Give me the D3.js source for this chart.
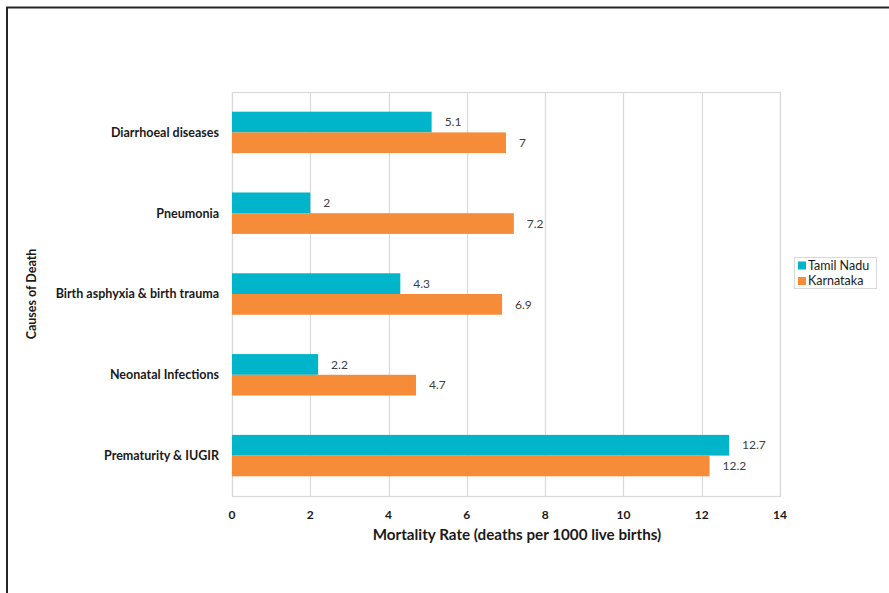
<!DOCTYPE html>
<html>
<head>
<meta charset="utf-8">
<script src="https://cdn.jsdelivr.net/npm/d3@7"></script>
<style>
  html, body { margin: 0; padding: 0; background: #fff; }
  svg { display: block; font-family: Lato, "Open Sans", sans-serif; }
</style>
</head>
<body>
<svg id="chart" width="889" height="593"></svg>
<script>
// Causes of neonatal death, mortality rate per 1000 live births
const causes = ["Diarrhoeal diseases", "Pneumonia", "Birth asphyxia & birth trauma", "Neonatal Infections", "Prematurity & IUGIR"];
const seriesNames = ["Tamil Nadu", "Karnataka"];
const tamilNadu = [5.1, 2, 4.3, 2.2, 12.7];
const karnataka = [7, 7.2, 6.9, 4.7, 12.2];
const xTicks = [0, 2, 4, 6, 8, 10, 12, 14];
const colors = ["#00b5c9", "#f68b38"];

const svg = d3.select("#chart");
const W = 889, H = 593;
const plot = { left: 232, top: 92, right: 780, bottom: 496 };

// outer frame (runs off right and bottom edges)
svg.append("path")
  .attr("d", `M7,${H + 5} V7.5 H${W + 5}`)
  .attr("fill", "none")
  .attr("stroke", "#262626")
  .attr("stroke-width", 2);

const x = d3.scaleLinear().domain([0, 14]).range([plot.left, plot.right]);
const y = d3.scaleBand().domain(causes).range([plot.top, plot.bottom]).paddingInner(0).paddingOuter(0);
const inner = d3.scaleBand().domain(seriesNames).range([0, y.bandwidth()]).paddingInner(0).paddingOuter(0.95);

// vertical gridlines
svg.append("g")
  .selectAll("line")
  .data(xTicks)
  .join("line")
  .attr("x1", d => Math.round(x(d)) + 0.5)
  .attr("x2", d => Math.round(x(d)) + 0.5)
  .attr("y1", plot.top)
  .attr("y2", plot.bottom)
  .attr("stroke", "#d9d9d9")
  .attr("stroke-width", 1.2);

// plot border
svg.append("rect")
  .attr("x", plot.left + 0.5)
  .attr("y", plot.top + 0.5)
  .attr("width", plot.right - plot.left)
  .attr("height", plot.bottom - plot.top)
  .attr("fill", "none")
  .attr("stroke", "#d9d9d9")
  .attr("stroke-width", 1.2);

const rows = causes.map((c, i) => ({ cause: c, values: [tamilNadu[i], karnataka[i]] }));

const groups = svg.append("g")
  .selectAll("g")
  .data(rows)
  .join("g")
  .attr("transform", d => `translate(0,${y(d.cause)})`);

const bars = groups.selectAll("g")
  .data(d => d.values.map((v, k) => ({ name: seriesNames[k], value: v, k })))
  .join("g");

bars.append("rect")
  .attr("x", x(0))
  .attr("y", d => inner(d.name))
  .attr("width", d => x(d.value) - x(0))
  .attr("height", inner.bandwidth())
  .attr("fill", d => colors[d.k]);

bars.append("text")
  .attr("x", d => x(d.value) + 13)
  .attr("y", d => inner(d.name) + inner.bandwidth() / 2)
  .attr("dy", "0.35em")
  .attr("font-size", 12)
  .attr("fill", "#404040")
  .text(d => d.value);

// category labels
svg.append("g")
  .selectAll("text")
  .data(causes)
  .join("text")
  .attr("x", 219)
  .attr("y", d => y(d) + y.bandwidth() / 2)
  .attr("dy", "0.35em")
  .attr("text-anchor", "end")
  .attr("font-size", 12.5)
  .attr("font-weight", "bold")
  .attr("fill", "#1a1a1a")
  .text(d => d);

// x tick labels
svg.append("g")
  .selectAll("text")
  .data(xTicks)
  .join("text")
  .attr("x", d => x(d))
  .attr("y", 515)
  .attr("dy", "0.35em")
  .attr("text-anchor", "middle")
  .attr("font-size", 12)
  .attr("font-weight", "bold")
  .attr("fill", "#1a1a1a")
  .text(d => d);

// axis titles
svg.append("text")
  .attr("x", (plot.left + plot.right) / 2 + 11)
  .attr("y", 535)
  .attr("dy", "0.35em")
  .attr("text-anchor", "middle")
  .attr("font-size", 15.2)
  .attr("font-weight", "bold")
  .attr("fill", "#1a1a1a")
  .text("Mortality Rate (deaths per 1000 live births)");

svg.append("text")
  .attr("transform", `translate(32,${(plot.top + plot.bottom) / 2}) rotate(-90)`)
  .attr("dy", "0.35em")
  .attr("text-anchor", "middle")
  .attr("font-size", 12.5)
  .attr("font-weight", "bold")
  .attr("fill", "#1a1a1a")
  .text("Causes of Death");

// legend
const legend = svg.append("g").attr("transform", "translate(794,257)");
legend.append("rect")
  .attr("x", 0.5).attr("y", 0.5)
  .attr("width", 82).attr("height", 31)
  .attr("fill", "#fff")
  .attr("stroke", "#d9d9d9");
const items = legend.selectAll("g.item")
  .data(seriesNames)
  .join("g")
  .attr("class", "item")
  .attr("transform", (d, i) => `translate(0,${8.5 + i * 15.5})`);
items.append("rect")
  .attr("x", 4).attr("y", -4)
  .attr("width", 8).attr("height", 8)
  .attr("fill", (d, i) => colors[i]);
items.append("text")
  .attr("x", 14)
  .attr("dy", "0.35em")
  .attr("font-size", 12.5)
  .attr("fill", "#1a1a1a")
  .text(d => d);
</script>
</body>
</html>
